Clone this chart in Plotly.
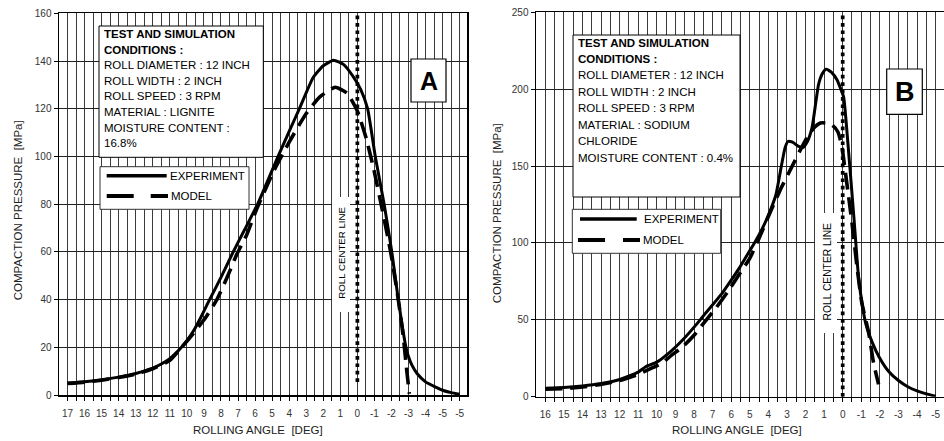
import plotly.graph_objects as go

W, H = 944, 441
FONT = "Arial, 'Liberation Sans', Helvetica, sans-serif"

# ---------------- data: panel A (lignite) ----------------
a_exp_angle = [17, 16, 15, 14, 13, 12, 11.5, 11, 10.5, 10.0, 9.6, 9.2, 8.75, 8.0, 7.35, 6.6, 5.85,
               5.25, 4.65, 4.0, 3.4, 2.6, 2.0, 1.4, 0.8, 0.25, -0.2, -0.6, -1.05, -1.57, -2.02,
               -2.4, -2.85, -3.0, -3.2, -3.5, -4.0, -4.5, -5.0, -5.5, -6.0]
a_exp_pressure = [5.0, 5.6, 6.4, 7.5, 9.0, 11.3, 13.0, 15.2, 18.6, 22.8, 27.0, 32.3, 38.8, 49.3,
                  59, 69.5, 80, 90, 100, 110.5, 120, 133, 138, 140.3, 138.5, 133.5, 128, 120, 100,
                  80, 60, 40, 20, 16, 12.5, 9, 5.5, 3.6, 2.0, 1.0, 0.3]
a_model_angle = [17, 16, 15, 14, 13, 12, 11, 10.3, 9.6, 8.9, 8.24, 7.6, 7.07, 6.5, 5.9, 4.9,
                 4.0, 3.0, 2.2, 1.3, 0.6, 0.0, -0.5, -0.95, -1.45, -1.95, -2.4, -2.7, -2.9, -3.05]
a_model_pressure = [4.8, 5.4, 6.2, 7.3, 8.8, 11, 14.5, 20, 26, 32.5, 40, 50, 59, 67, 78, 94,
                    106, 118, 125, 129, 126.5, 119, 108, 95, 78, 60, 40, 24, 10, 0.5]
a_center_pressure = [5.5, 160]
a_tick_labels = ["17", "16", "15", "14", "13", "12", "11", "10", "9", "8", "7", "6", "5", "4",
                 "3", "2", "1", "0", "-1", "-2", "-3", "-4", "-5", "-5"]
a_conditions = ["<b>TEST AND SIMULATION</b>", "<b>CONDITIONS :</b>", "ROLL DIAMETER : 12 INCH",
                "ROLL WIDTH : 2 INCH", "ROLL SPEED : 3 RPM", "MATERIAL : LIGNITE",
                "MOISTURE CONTENT :", "16.8%"]

# ---------------- data: panel B (sodium chloride) ----------------
b_exp_angle = [16, 15, 14, 13, 12, 11, 10.6, 10.0, 9.2, 8.6, 7.8, 7.4, 6.5, 6.1, 5.6, 5.1, 4.7,
               4.3, 4.0, 3.6, 3.3, 3.1, 2.95, 2.7, 2.4, 2.15, 1.9, 1.65, 1.3, 1.1, 0.9, 0.6, 0.3,
               0.1, -0.05, -0.3, -0.6, -0.85, -1.05, -1.25, -1.6, -1.95, -2.5, -3.0, -3.5, -4.0,
               -4.5, -5.0]
b_exp_pressure = [5.5, 6.0, 7.0, 8.6, 11.2, 16, 19.5, 22.5, 30, 37, 48, 54, 67, 74, 83, 93, 101,
                  110, 118, 131, 150, 162, 166, 165.5, 163, 162, 166, 175, 203, 210, 213, 211, 206,
                  200, 195, 162, 117, 78, 60, 47, 35, 26, 16, 10.5, 6.5, 3.8, 1.8, 0.3]
b_model_angle = [16, 15, 14, 13, 12, 11, 10.2, 9.7, 9.2, 8.6, 8.0, 7.4, 6.8, 6.2, 5.6, 5.0, 4.5,
                 3.9, 3.3, 2.8, 2.3, 1.85, 1.5, 1.2, 0.9, 0.55, 0.25, 0.05, -0.2, -0.5, -0.77,
                 -1.03, -1.4, -1.66, -1.93]
b_model_pressure = [4.8, 5.3, 6.3, 8.0, 10.5, 14.5, 19, 22, 27, 32.5, 40, 49, 58, 68, 79, 90, 103,
                    120, 136, 148, 160, 170, 175.5, 178, 178, 176.5, 172, 163, 141, 113, 84.5, 61,
                    41.5, 22, 8]
b_center_pressure = [0, 250]
b_tick_labels = ["16", "15", "14", "13", "12", "11", "10", "9", "8", "7", "6", "5", "4", "3",
                 "2", "1", "0", "-1", "-2", "-3", "-4", "-5"]
b_conditions = ["<b>TEST AND SIMULATION</b>", "<b>CONDITIONS :</b>", "ROLL DIAMETER : 12 INCH",
                "ROLL WIDTH : 2 INCH", "ROLL SPEED : 3 RPM", "MATERIAL : SODIUM", "CHLORIDE",
                "MOISTURE CONTENT : 0.4%"]

legend_names = ["EXPERIMENT", "MODEL"]
center_label = "ROLL CENTER LINE"
x_title = "ROLLING ANGLE\u00a0\u00a0[DEG]"
y_title = "COMPACTION PRESSURE\u00a0\u00a0[MPa]"


def fx(px):
    return px / W


def fy(py):
    return 1 - py / H


def ticks(labels):
    top = int(labels[0])
    vals, texts = [], []
    for i, lab in enumerate(labels):
        v = top - i
        vals.append(v)
        texts.append(lab)
        if i < len(labels) - 1:
            vals.append(v - 0.5)
            texts.append("")
    return vals, texts


fig = go.Figure()

panels = [
    dict(xa="x", ya="y", exp=(a_exp_angle, a_exp_pressure), mod=(a_model_angle, a_model_pressure),
         center=a_center_pressure),
    dict(xa="x2", ya="y2", exp=(b_exp_angle, b_exp_pressure), mod=(b_model_angle, b_model_pressure),
         center=b_center_pressure),
]
for p in panels:
    fig.add_trace(go.Scatter(x=[0, 0], y=p["center"], mode="lines", xaxis=p["xa"], yaxis=p["ya"],
                             line=dict(color="black", width=3.7, dash="dot"), showlegend=False,
                             hoverinfo="skip"))
    fig.add_trace(go.Scatter(x=p["mod"][0], y=p["mod"][1], mode="lines", name=legend_names[1],
                             xaxis=p["xa"], yaxis=p["ya"], showlegend=False,
                             line=dict(color="black", width=3.6, dash="17px,8px", shape="spline",
                                       smoothing=0.5)))
    fig.add_trace(go.Scatter(x=p["exp"][0], y=p["exp"][1], mode="lines", name=legend_names[0],
                             xaxis=p["xa"], yaxis=p["ya"], showlegend=False,
                             line=dict(color="black", width=3, shape="spline", smoothing=0.5)))

a_tv, a_tt = ticks(a_tick_labels)
b_tv, b_tt = ticks(b_tick_labels)

xcommon = dict(showgrid=True, gridcolor="#3c3c3c", gridwidth=1, showline=True, linecolor="black",
               linewidth=1.5, mirror=True, ticks="outside", ticklen=4, tickcolor="black",
               tickfont=dict(family=FONT, size=10, color="#333"), zeroline=False,
               tickmode="array", ticklabelstandoff=4, automargin=False)
ycommon = dict(showgrid=True, gridcolor="#222", gridwidth=1, showline=True, linecolor="black",
               linewidth=1.5, mirror=True, ticks="outside", ticklen=4, tickcolor="black",
               tickfont=dict(family=FONT, size=10, color="#333"), zeroline=False,
               automargin=False)

fig.update_layout(
    width=W, height=H, autosize=False,
    margin=dict(l=0, r=0, t=0, b=0, pad=0),
    paper_bgcolor="white", plot_bgcolor="white",
    showlegend=False,
    xaxis=dict(domain=[fx(59), fx(467)], range=[17.5, -6.43], anchor="y",
               tickvals=a_tv, ticktext=a_tt, **xcommon),
    yaxis=dict(domain=[fy(395), fy(13.3)], range=[0, 160], dtick=20, anchor="x", **ycommon),
    xaxis2=dict(domain=[fx(536), 1.0], range=[16.5, -5.45], anchor="y2",
                tickvals=b_tv, ticktext=b_tt, **xcommon),
    yaxis2=dict(domain=[fy(396.7), fy(12.3)], range=[0, 250], dtick=50, anchor="x2", **ycommon),
)

shapes = []
ann = []


def rect(x0, y0, x1, y1, color="black", width=1):
    shapes.append(dict(type="rect", xref="paper", yref="paper", x0=fx(x0), x1=fx(x1),
                       y0=fy(y0), y1=fy(y1), fillcolor="white", line=dict(color=color, width=width),
                       layer="above"))


def seg(x0, x1, y, width, dash="solid"):
    shapes.append(dict(type="line", xref="paper", yref="paper", x0=fx(x0), x1=fx(x1),
                       y0=fy(y), y1=fy(y), line=dict(color="black", width=width, dash=dash),
                       layer="above"))


def text(x, y, s, size=11.5, anchor="left", angle=0, color="black"):
    ann.append(dict(xref="paper", yref="paper", x=fx(x), y=fy(y), text=s, showarrow=False,
                    xanchor=anchor, yanchor="middle", textangle=angle,
                    font=dict(family=FONT, size=size, color=color)))


# ---- panel A decorations ----
rect(99, 26, 263.3, 157.3)
for i, line in enumerate(a_conditions):
    text(102.3, 34 + i * 15.6, line)
rect(100, 166.7, 249, 209.3, color="#333")
seg(106.7, 166.7, 175.7, 3.5)
seg(106.7, 168, 196, 4, dash="27px,17px")
text(167.7, 175.7, legend_names[0])
text(168.5, 196, legend_names[1])
rect(411, 59, 446, 102, width=1.2)
text(428.5, 81, "<b>A</b>", size=25, anchor="center")
rect(332, 197, 350, 312, color="rgba(0,0,0,0)", width=0)
text(342, 252.7, center_label, size=9.7, anchor="center", angle=-90)

# ---- panel B decorations ----
rect(573, 35, 740, 197)
for i, line in enumerate(b_conditions):
    text(576, 42.7 + i * 16.4, line)
rect(572.3, 209.3, 720.7, 253.3, color="#333")
seg(580, 636.7, 219, 3.5)
seg(578, 640, 240, 4, dash="27px,18px")
text(641.5, 219, legend_names[0])
text(641, 240, legend_names[1])
rect(886.7, 69, 922.3, 114.3, width=1.2)
text(904.5, 92, "<b>B</b>", size=27, anchor="center")
rect(815, 213, 837, 333, color="rgba(0,0,0,0)", width=0)
text(826.5, 272, center_label, size=10.3, anchor="center", angle=-90)

# ---- axis titles ----
text(258.3, 430, x_title, size=11.5, anchor="center", color="#222")
text(737, 430, x_title, size=11.5, anchor="center", color="#222")
text(18.3, 210, y_title, size=11.5, anchor="center", angle=-90, color="#222")
text(496.7, 213.5, y_title, size=11.5, anchor="center", angle=-90, color="#222")

fig.update_layout(shapes=shapes, annotations=ann)
fig.write_html(
    "out.html",
    config={"displayModeBar": False, "staticPlot": True},
    post_script="document.body.style.margin='0';document.body.style.padding='0';"
                "document.body.style.overflow='hidden';",
)
